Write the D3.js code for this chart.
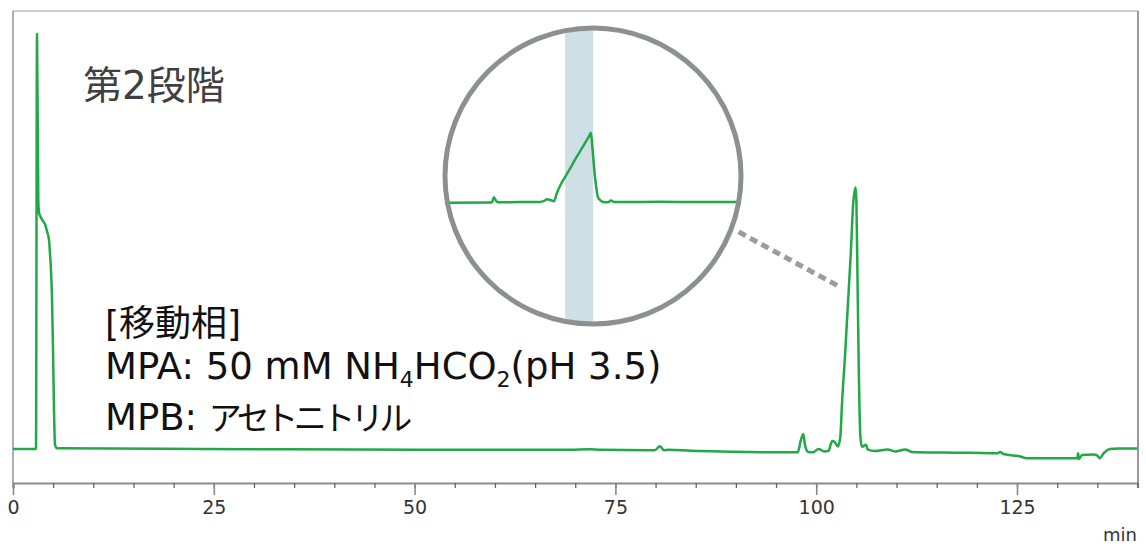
<!DOCTYPE html>
<html lang="ja">
<head>
<meta charset="UTF-8">
<title>第2段階</title>
<script src="https://d3js.org/d3.v7.min.js"></script>
<style>
  body { margin: 0; background: #fff; }
  svg { display: block; font-family: "DejaVu Sans", "Noto Sans CJK JP", sans-serif; }
  .tick text { font-size: 19px; fill: #333; }
</style>
</head>
<body>
<svg id="chart" width="1146" height="550"></svg>
<script>
// main chromatogram, time in min / signal (relative, tallest peak = 100)
const traceTime = [0, 2.86, 2.99, 3.15, 3.24, 3.49, 3.74, 3.98, 4.23, 4.48, 4.61, 4.73, 4.86, 4.98, 5.10, 5.23, 5.48,
  23.3, 50.7, 69.3, 71.8, 73.1, 79.3, 79.9, 80.55, 81.05, 81.5, 85.5, 95.5, 97.7, 98.1, 98.4, 98.6, 99.0, 99.6,
  100.3, 101.0, 101.5, 102.0, 102.3, 102.7, 103.0, 103.2, 103.6, 104.3, 104.6, 104.9, 105.0, 105.1, 105.3, 105.5,
  105.7, 105.9, 106.2, 106.4, 107.3, 108.9, 109.8, 111.1, 111.9, 115.8, 119.2, 122.6, 122.9, 123.3, 125.4, 126.2,
  132.5, 132.6, 132.7, 133.1, 134.5, 134.9, 135.3, 135.8, 136.6, 137.6, 140];
const traceSignal = [0, 0, 100, 60, 57, 55.7, 54.9, 54.2, 52.5, 50.4, 47, 43, 36, 24, 10, 1, 0.2,
  0, -0.17, -0.2, -0.07, -0.2, -0.3, -0.3, 0.65, -0.3, -0.2, -0.5, -0.8, -0.8, 2.2, 3.6, 1, -0.7, -0.8,
  0, -0.6, -0.5, 1.9, 1.7, 0.6, 2.9, 10.6, 23, 47, 59, 63, 60, 47, 19, 2.9,
  0.5, 0.7, 1, -0.1, -0.5, -0.1, -0.6, -0.1, -0.7, -0.85, -0.9, -1, -0.7, -1.2, -1.8, -2.2,
  -2.2, -1, -2.4, -1.45, -1.3, -1.45, -2.2, -1, 0, 0.1, 0.1];

// magnified view (relative position 0-100 / relative signal)
const insetPos = [0, 14.7, 15.4, 16.0, 16.7, 17.4, 24.9, 31.7, 33.1, 34.1, 35.5, 36.5, 37.5, 38.9, 40.3, 42.0,
  43.7, 45.4, 47.1, 48.5, 49.1, 49.5, 49.8, 50.3, 50.9, 51.5, 52.2, 53.2, 54.9, 56.0, 57.0, 59.0, 72.7, 86.3, 100];
const insetSignal = [-1, -0.7, 0, 6.8, 2, -0.4, 0, 0, 1.5, 3.9, 2.5, 1, 13, 26, 36, 48,
  61, 73, 85, 95, 100, 85, 70, 45, 22, 7, 3, 0, -0.5, 2, 0, 0, 0.2, 0, 0];
const insetBand = [40.3, 49.9];

const majorTicks = [0, 25, 50, 75, 100, 125];
const minorTicks = d3.range(0, 141, 5);
const leaderTarget = [103.0, 39];

const green = "#21a847";
const svg = d3.select("#chart");

const x = d3.scaleLinear().domain([0, 140]).range([13, 1137.5]);
const y = d3.scaleLinear().domain([0, 100]).range([449, 34]);
const axisY = 483;

// frame
svg.append("line").attr("x1", 13).attr("x2", 1138).attr("y1", 11).attr("y2", 11)
  .attr("stroke", "#9a9a9a").attr("stroke-width", 1);
svg.append("line").attr("x1", 13).attr("x2", 13).attr("y1", 11).attr("y2", axisY)
  .attr("stroke", "#777").attr("stroke-width", 1.2);
svg.append("line").attr("x1", 1138).attr("x2", 1138).attr("y1", 11).attr("y2", axisY)
  .attr("stroke", "#999").attr("stroke-width", 2);

// axis: minor then major
const minor = svg.append("g").attr("transform", `translate(0,${axisY})`)
  .call(d3.axisBottom(x).tickValues(minorTicks).tickSize(5).tickFormat(""));
minor.select(".domain").attr("stroke", "#8c8c8c").attr("stroke-width", 2.2);
minor.selectAll(".tick line").attr("stroke", "#666").attr("stroke-width", 1.3);

const major = svg.append("g").attr("transform", `translate(0,${axisY})`)
  .call(d3.axisBottom(x).tickValues(majorTicks).tickSize(12).tickPadding(6));
major.select(".domain").remove();
major.selectAll(".tick line").attr("stroke", "#888").attr("stroke-width", 1.6);
major.selectAll(".tick text").attr("font-family", "'DejaVu Sans', sans-serif");

svg.append("text").attr("x", 1137).attr("y", 541).attr("text-anchor", "end")
  .attr("font-size", 18).attr("fill", "#333").text("min");

// trace
const trace = traceTime.map((t, i) => [t, traceSignal[i]]);
svg.append("path").datum(trace)
  .attr("fill", "none").attr("stroke", green).attr("stroke-width", 2.5)
  .attr("stroke-linejoin", "round")
  .attr("d", d3.line().x(d => x(d[0])).y(d => y(d[1])).curve(d3.curveMonotoneX));

// magnifier
const cx = 593, cy = 176, r = 148;
const ix = d3.scaleLinear().domain([0, 100]).range([447, 740]);
const iy = d3.scaleLinear().domain([0, 100]).range([202, 132.7]);

svg.append("clipPath").attr("id", "lens").append("circle")
  .attr("cx", cx).attr("cy", cy).attr("r", r);
const lens = svg.append("g").attr("clip-path", "url(#lens)");
lens.append("circle").attr("cx", cx).attr("cy", cy).attr("r", r).attr("fill", "#fff");
lens.append("rect").attr("x", ix(insetBand[0])).attr("width", ix(insetBand[1]) - ix(insetBand[0]))
  .attr("y", cy - r).attr("height", 2 * r).attr("fill", "#cfdfe6");
lens.append("path").datum(insetPos.map((p, i) => [p, insetSignal[i]]))
  .attr("fill", "none").attr("stroke", green).attr("stroke-width", 2.5)
  .attr("d", d3.line().x(d => ix(d[0])).y(d => iy(d[1])).curve(d3.curveMonotoneX));
svg.append("circle").attr("cx", cx).attr("cy", cy).attr("r", r)
  .attr("fill", "none").attr("stroke", "#8e9090").attr("stroke-width", 5);

// dashed leader
const ang = 21 * Math.PI / 180;
svg.append("line")
  .attr("x1", cx + (r + 8) * Math.cos(ang)).attr("y1", cy + (r + 8) * Math.sin(ang))
  .attr("x2", x(leaderTarget[0])).attr("y2", y(leaderTarget[1]))
  .attr("stroke", "#9a9c9d").attr("stroke-width", 5).attr("stroke-dasharray", "8,5");

// labels
svg.append("text").attr("x", 83).attr("y", 99).attr("font-size", 39).attr("fill", "#404040").text("第2段階");

const note = svg.append("text").attr("font-size", 36).attr("fill", "#111");
note.append("tspan").attr("x", 105).attr("y", 336).text("[移動相]");
note.append("tspan").attr("x", 105).attr("y", 379).attr("font-size", 37).text("MPA: 50 mM NH");
note.append("tspan").attr("font-size", 22).attr("dy", 8).text("4");
note.append("tspan").attr("dy", -8).attr("font-size", 37).text("HCO");
note.append("tspan").attr("font-size", 22).attr("dy", 8).text("2");
note.append("tspan").attr("dy", -8).attr("font-size", 37).text("(pH 3.5)");
note.append("tspan").attr("x", 105).attr("y", 430).attr("font-size", 37).text("MPB: ");
note.append("tspan").attr("font-size", 33).attr("letter-spacing", -4.5).text("アセトニトリル");
</script>
</body>
</html>
